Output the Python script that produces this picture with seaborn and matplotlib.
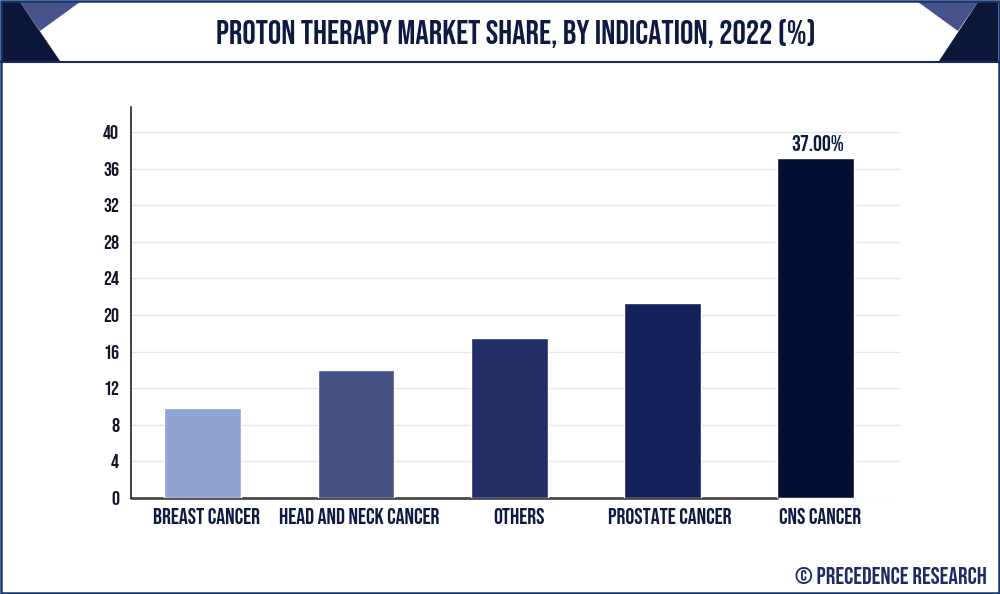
import matplotlib
matplotlib.use("Agg")
import matplotlib.pyplot as plt
import matplotlib.transforms as mtrans
from matplotlib.patches import Polygon, Rectangle
import pandas as pd
import seaborn as sns

indications = ["BREAST CANCER", "HEAD AND NECK CANCER", "OTHERS", "PROSTATE CANCER", "CNS CANCER"]
shares = [9.8, 14.0, 17.5, 21.3, 37.2]
bar_colors = ["#8fa3d5", "#475284", "#232e66", "#12215a", "#040f33"]
y_ticks = [0, 4, 8, 12, 16, 20, 24, 28, 32, 36, 40]
label_shift = [4, 3, 10, 7, 4]  # px, labels sit off-centre in the original

NAVY = "#0e1a42"
W, H = 1000, 594

sns.set_theme(style="white")
plt.rcParams["font.family"] = ["Bebas Neue", "Oswald", "Barlow Condensed", "DejaVu Sans"]
plt.rcParams["font.stretch"] = "condensed"

df = pd.DataFrame({"indication": indications, "share": shares})

fig = plt.figure(figsize=(10, 5.94), dpi=100)
ax = fig.add_axes([131 / W, 1 - 498 / H, (900 - 131) / W, (498 - 107) / H])

# header + frame drawn on a pixel-coordinate overlay
bg = fig.add_axes([0, 0, 1, 1], zorder=5)
bg.set_xlim(0, W)
bg.set_ylim(H, 0)
bg.axis("off")
bg.patch.set_alpha(0)
bg.add_patch(Polygon([(20, 2), (80, 2), (40, 31)], color="#47528a", lw=0))
bg.add_patch(Polygon([(918, 2), (978, 2), (958, 31)], color="#47528a", lw=0))
bg.add_patch(Polygon([(2, 2), (20, 2), (60, 61), (2, 61)], color="#0b1638", lw=0))
bg.add_patch(Polygon([(978, 2), (998, 2), (998, 61), (939, 61)], color="#0b1638", lw=0))
bg.plot([0, W], [61.5, 61.5], color="#1f2560", lw=1.5)
bg.add_patch(Rectangle((0.8, 0.8), W - 1.6, H - 1.6, fill=False, ec="#17366e", lw=1.8))

sns.barplot(
    data=df,
    x="indication",
    y="share",
    hue="indication",
    palette=bar_colors,
    legend=False,
    width=0.5,
    saturation=1,
    zorder=3,
    ax=ax,
)
ax.set_xlim(-0.468, 4.55)
ax.set_ylim(0, 42.73)
ax.set_yticks(y_ticks)
ax.set_xlabel("")
ax.set_ylabel("")
ax.grid(axis="y", color="#e6e6e6", lw=1, zorder=0)
ax.set_axisbelow(True)
ax.tick_params(axis="both", length=0)
ax.tick_params(axis="y", pad=8.5)
for pos in ["top", "right"]:
    ax.spines[pos].set_visible(False)
ax.spines["left"].set_color("#222222")
ax.spines["left"].set_linewidth(1.2)
ax.spines["bottom"].set_visible(False)
ax.plot([-0.468, 3.75], [0, 0], color="#4a4a4a", lw=2, zorder=0.9, clip_on=False)

for lab in ax.get_yticklabels():
    lab.set_fontsize(14.5)
    lab.set_color("#15152a")
for lab, dx in zip(ax.get_xticklabels(), label_shift):
    lab.set_fontsize(16)
    lab.set_color(NAVY)
    lab.set_transform(lab.get_transform() + mtrans.ScaledTranslation(dx / 100, -5 / 100, fig.dpi_scale_trans))

ax.text(4.01, shares[4] + 0.75, "37.00%", ha="center", va="bottom", fontsize=16, color=NAVY)

fig.text(516 / W, 1 - 33 / H, "PROTON THERAPY MARKET SHARE, BY INDICATION, 2022 (%)",
         ha="center", va="center", fontsize=24, color=NAVY, zorder=10)
fig.text(987 / W, 1 - 575 / H, "© PRECEDENCE RESEARCH",
         ha="right", va="center", fontsize=17.2, color="#1f2a66", zorder=10)

fig.savefig("out.png", dpi=100)
plt.close(fig)
